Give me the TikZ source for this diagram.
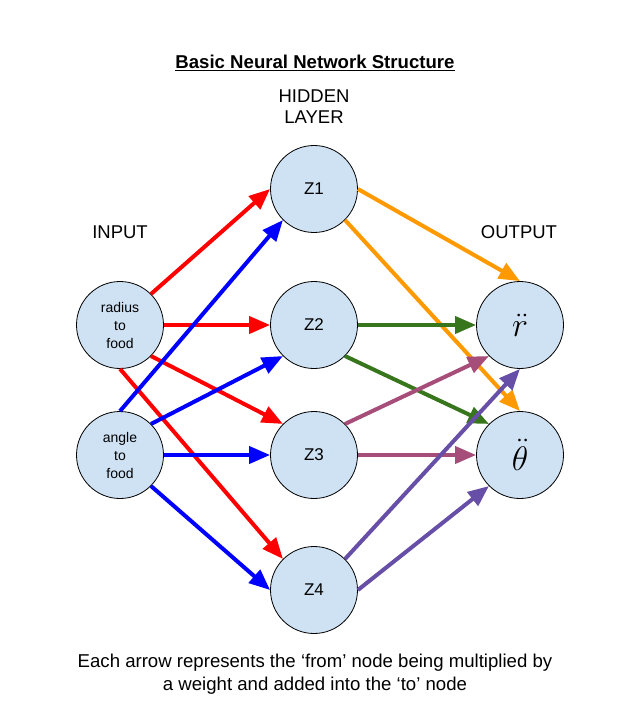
\RequirePackage{fix-cm}
\documentclass[tikz,border=0pt]{standalone}
\usepackage{fontspec}
\setmainfont{Liberation Sans}
\usetikzlibrary{arrows.meta}
\definecolor{nodefill}{HTML}{CFE2F3}
\definecolor{cred}{HTML}{FF0000}
\definecolor{cblue}{HTML}{0000FF}
\definecolor{corange}{HTML}{FF9900}
\definecolor{cgreen}{HTML}{38761D}
\definecolor{cmauve}{HTML}{A64D79}
\definecolor{cpurple}{HTML}{674EA7}
\tikzset{
  neuron/.style={circle, draw=black, line width=0.8pt, fill=nodefill, minimum size=87pt, inner sep=0pt, align=center},
  smalltext/.style={font=\fontsize{14}{18}\selectfont},
  hidtext/.style={font=\fontsize{17}{20}\selectfont},
  outtext/.style={font=\fontsize{34}{36}\selectfont},
  label/.style={font=\fontsize{18.5}{21}\selectfont, align=center},
  conn/.style={line width=4pt, -{Triangle[length=21pt,width=17pt]}},
}
\begin{document}
\begin{tikzpicture}[x=1pt,y=-1pt]
\useasboundingbox (0,0) rectangle (635,711);
\node (title) at (315,63) {\fontsize{18.6}{22}\selectfont\bfseries\underline{Basic Neural Network Structure}};
\node[label] (hidden) at (314,107) {HIDDEN\\LAYER};
\node[label] (input) at (120,232) {INPUT};
\node[label] (output) at (519,232) {OUTPUT};

\node[neuron, smalltext] (rad) at (120,325) {radius\\to\\food};
\node[neuron, smalltext] (ang) at (120,455) {angle\\to\\food};
\node[neuron, hidtext] (z1) at (314,189) {Z1};
\node[neuron, hidtext] (z2) at (314,325) {Z2};
\node[neuron, hidtext] (z3) at (314,455) {Z3};
\node[neuron, hidtext] (z4) at (314,590) {Z4};
\node[neuron, outtext] (rdd) at (520,325) {$\ddot{r}$};
\node[neuron, outtext] (tdd) at (520,455) {$\ddot{\theta}$};

\draw[conn, cred] (rad.45) -- (z1.west);
\draw[conn, cred] (rad.east) -- (z2.west);
\draw[conn, cred] (rad.-45) -- (z3.135);
\draw[conn, cred] (rad.south) -- (z4.135);

\draw[conn, cblue] (ang.north) -- (z1.-135);
\draw[conn, cblue] (ang.45) -- (z2.-135);
\draw[conn, cblue] (ang.east) -- (z3.west);
\draw[conn, cblue] (ang.-45) -- (z4.west);

\draw[conn, corange] (z1.east) -- (rdd.north);
\draw[conn, corange] (z1.-45) -- (tdd.north);

\draw[conn, cgreen] (z2.east) -- (rdd.west);
\draw[conn, cgreen] (z2.-45) -- (tdd.135);

\draw[conn, cmauve] (z3.45) -- (rdd.-135);
\draw[conn, cmauve] (z3.east) -- (tdd.west);

\draw[conn, cpurple] (z4.45) -- (rdd.south);
\draw[conn, cpurple] (z4.east) -- (tdd.-135);

\node[label, font=\fontsize{18.6}{23}\selectfont] (caption) at (315,674) {Each arrow represents the ‘from’ node being multiplied by\\a weight and added into the ‘to’ node};
\end{tikzpicture}
\end{document}
